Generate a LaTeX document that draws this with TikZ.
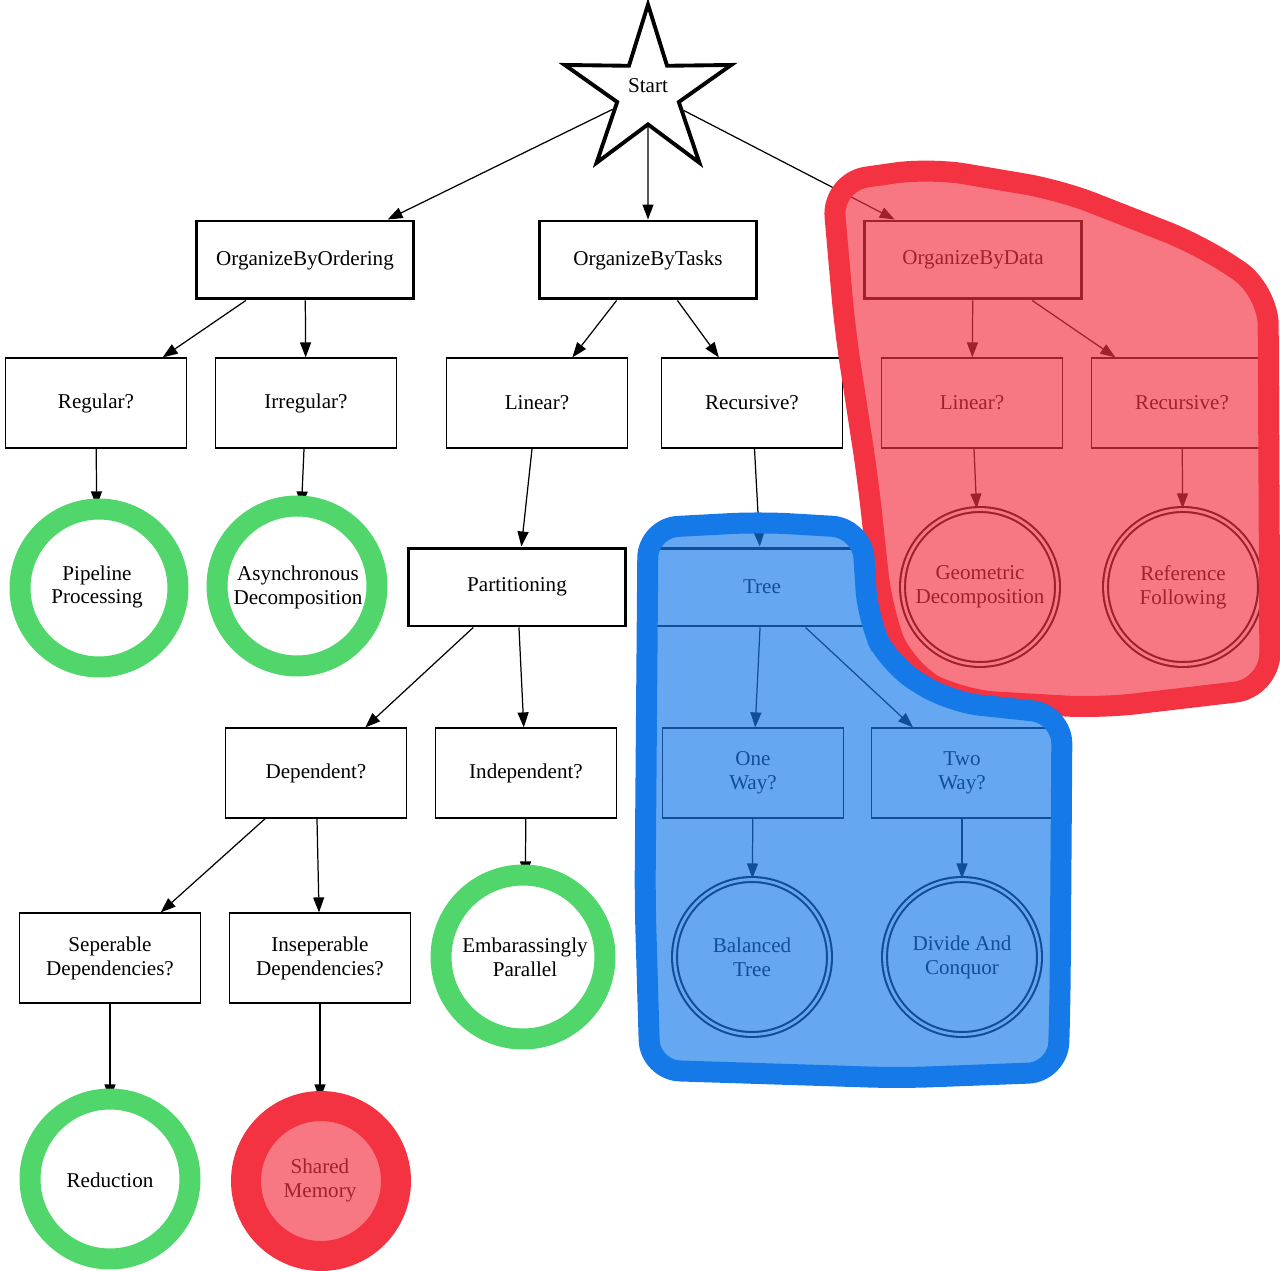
\documentclass[tikz,border=0pt]{standalone}
\usepackage{fontspec}
\setmainfont{Liberation Serif}
\usetikzlibrary{shapes.geometric,arrows.meta}

\definecolor{greenpen}{RGB}{80,214,106}
\definecolor{redpen}{RGB}{243,50,66}
\definecolor{bluepen}{RGB}{22,121,232}

\begin{document}
\begin{tikzpicture}[x=0.02cm, y=-0.02cm,
  every node/.style={font=\rmfamily\fontsize{12}{13.6}\selectfont, align=center},
  startstar/.style={star, star points=5, star point ratio=2.7, draw, line width=2.2pt, minimum size=3.5cm, inner sep=0pt},
  groupbox/.style={rectangle, draw, line width=1.7pt, minimum width=4.34cm, minimum height=1.56cm},
  askbox/.style={rectangle, draw, line width=0.7pt, minimum width=3.62cm, minimum height=1.8cm},
  patterncircle/.style={circle, draw, line width=0.7pt, minimum size=3.2cm, inner sep=0pt},
  finalcircle/.style={circle, draw, double, double distance=1.6pt, line width=1.2pt, minimum size=3.1cm, inner sep=0pt},
  flow/.style={line width=0.7pt, -{Triangle[length=0.3cm, width=0.22cm]}},
  greenring/.style={draw=greenpen, line width=0.42cm},
]

\useasboundingbox (0,0) rectangle (1280,1270);

% =========================
% TOP LEVEL
% =========================
\node[startstar] (start) at (648,92) {\raisebox{7pt}{Start}};

\node[groupbox] (byorder) at (305,260) {OrganizeByOrdering};
\node[groupbox] (bytask)  at (648,260) {OrganizeByTasks};
\node[groupbox] (bydata)  at (973,260) {OrganizeByData};

\draw[flow] (start) -- (byorder);
\draw[flow] (start) -- (bytask);
\draw[flow] (start) -- (bydata);

% =========================
% ORDERING
% =========================
\node[askbox] (regular)   at (96,403)  {Regular?};
\node[askbox] (irregular) at (306,403) {Irregular?};

\node[patterncircle] (pipeline) at (97,587)  {Pipeline\\Processing};
\node[patterncircle] (async)    at (298,587) {Asynchronous\\Decomposition};

\draw[flow] (byorder) -- (regular);
\draw[flow] (byorder) -- (irregular);
\draw[flow] (regular) -- (pipeline);
\draw[flow] (irregular) -- (async);

% =========================
% TASKS
% =========================
\node[askbox] (tasklinear)    at (537,403) {Linear?};
\node[askbox] (taskrecursive) at (752,403) {Recursive?};

\node[groupbox] (partition) at (517,587) {Partitioning};
\node[groupbox] (tree)      at (762,587) {Tree};

\draw[flow] (bytask) -- (tasklinear);
\draw[flow] (bytask) -- (taskrecursive);
\draw[flow] (tasklinear) -- (partition);
\draw[flow] (taskrecursive) -- (tree);

% Partitioning
\node[askbox] (dependent)   at (316,773) {Dependent?};
\node[askbox] (independent) at (526,773) {Independent?};

\node[askbox] (separable)   at (110,958) {Seperable\\Dependencies?};
\node[askbox] (inseparable) at (320,958) {Inseperable\\Dependencies?};

\node[patterncircle] (embarrass) at (525,957)  {Embarassingly\\Parallel};
\node[patterncircle] (reduction) at (110,1180) {Reduction};
\node[patterncircle] (shared)    at (320,1180) {Shared\\Memory};

\draw[flow] (partition) -- (dependent);
\draw[flow] (partition) -- (independent);
\draw[flow] (dependent) -- (separable);
\draw[flow] (dependent) -- (inseparable);
\draw[flow] (independent) -- (embarrass);
\draw[flow] (separable) -- (reduction);
\draw[flow] (inseparable) -- (shared);

% Tree
\node[askbox] (oneway) at (753,773) {One\\Way?};
\node[askbox] (twoway) at (962,773) {Two\\Way?};

\node[finalcircle] (balanced) at (752,957) {Balanced\\Tree};
\node[finalcircle] (divide)   at (962,957) {Divide And\\Conquor};

\draw[flow] (tree) -- (oneway);
\draw[flow] (tree) -- (twoway);
\draw[flow] (oneway) -- (balanced);
\draw[flow] (twoway) -- (divide);

% =========================
% DATA
% =========================
\node[askbox] (datalinear)    at (972,403)  {Linear?};
\node[askbox] (datarecursive) at (1182,403) {Recursive?};

\node[finalcircle] (geometric) at (980,587)  {Geometric\\Decomposition};
\node[finalcircle] (reference) at (1183,587) {Reference\\Following};

\draw[flow] (bydata) -- (datalinear);
\draw[flow] (bydata) -- (datarecursive);
\draw[flow] (datalinear) -- (geometric);
\draw[flow] (datarecursive) -- (reference);

% =========================
% PEN MARKS
% =========================
\draw[greenring] (99,588) circle (1.58cm);
\draw[greenring] (297,586) circle (1.6cm);
\draw[greenring] (523,957) circle (1.64cm);
\draw[greenring] (110,1179) circle (1.6cm);

% shared memory
\fill[redpen, opacity=0.66] (321,1181) circle (1.5cm);
\draw[redpen, line width=0.6cm] (321,1181) circle (1.5cm);

% data group
\fill[redpen, opacity=0.66, rounded corners=0.7cm]
  (832,182) -- (930,168) -- (1060,190) -- (1200,245) -- (1268,290) --
  (1270,688) -- (1100,708) -- (960,700) -- (905,670) -- (882,610) --
  (868,480) -- (845,330) -- cycle;
\draw[redpen, line width=0.42cm, rounded corners=0.7cm]
  (832,182) -- (930,168) -- (1060,190) -- (1200,245) -- (1268,290) --
  (1270,688) -- (1100,708) -- (960,700) -- (905,670) -- (882,610) --
  (868,480) -- (845,330) -- cycle;

% tree group
\fill[bluepen, opacity=0.66, rounded corners=0.6cm]
  (648,528) -- (760,522) -- (862,528) -- (868,620) -- (890,665) --
  (950,702) -- (1062,714) -- (1060,1000) -- (1058,1072) -- (900,1078) --
  (650,1070) -- (645,900) -- cycle;
\draw[bluepen, line width=0.42cm, rounded corners=0.6cm]
  (648,528) -- (760,522) -- (862,528) -- (868,620) -- (890,665) --
  (950,702) -- (1062,714) -- (1060,1000) -- (1058,1072) -- (900,1078) --
  (650,1070) -- (645,900) -- cycle;

\end{tikzpicture}
\end{document}
